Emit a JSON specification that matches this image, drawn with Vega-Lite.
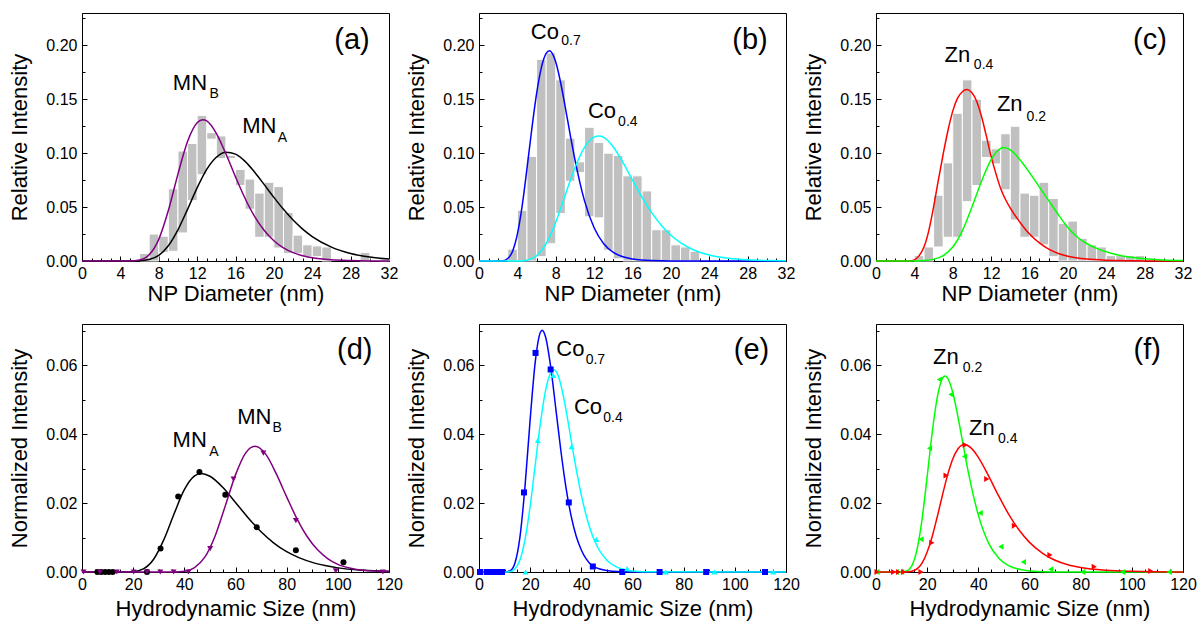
{
"$schema":"https://vega.github.io/schema/vega-lite/v6.json",
"background":"white",
"padding":{"left":8,"top":9,"right":5,"bottom":5},
"datasets":{
"hist":[
{"p":"a","x":6,"x2":7,"y":0,"y2":0.007},{"p":"a","x":7,"x2":8,"y":0,"y2":0.025},{"p":"a","x":8,"x2":9,"y":0.008,"y2":0.023},{"p":"a","x":9,"x2":10,"y":0.009,"y2":0.067},{"p":"a","x":10,"x2":11,"y":0.026,"y2":0.102},{"p":"a","x":11,"x2":12,"y":0.056,"y2":0.109},{"p":"a","x":12,"x2":13,"y":0.08,"y2":0.135},{"p":"a","x":13,"x2":14,"y":0.113,"y2":0.119},{"p":"a","x":14,"x2":15,"y":0.095,"y2":0.116},{"p":"a","x":15,"x2":16,"y":0.095,"y2":0.098},{"p":"a","x":16,"x2":17,"y":0.07,"y2":0.085},{"p":"a","x":17,"x2":18,"y":0.048,"y2":0.076},{"p":"a","x":18,"x2":19,"y":0.022,"y2":0.063},{"p":"a","x":19,"x2":20,"y":0.022,"y2":0.073},{"p":"a","x":20,"x2":21,"y":0.012,"y2":0.069},{"p":"a","x":21,"x2":22,"y":0.007,"y2":0.045},{"p":"a","x":22,"x2":23,"y":0.007,"y2":0.024},{"p":"a","x":23,"x2":24,"y":0.004,"y2":0.015},{"p":"a","x":24,"x2":25,"y":0.004,"y2":0.014},{"p":"a","x":25,"x2":26,"y":0,"y2":0.013},{"p":"a","x":29,"x2":30,"y":0,"y2":0.008},{"p":"a","x":31,"x2":32,"y":0,"y2":0.002},
{"p":"b","x":3,"x2":4,"y":0,"y2":0.011},{"p":"b","x":4,"x2":5,"y":0,"y2":0.047},{"p":"b","x":5,"x2":6,"y":0,"y2":0.097},{"p":"b","x":6,"x2":7,"y":0.004,"y2":0.187},{"p":"b","x":7,"x2":8,"y":0.016,"y2":0.193},{"p":"b","x":8,"x2":9,"y":0.044,"y2":0.168},{"p":"b","x":9,"x2":10,"y":0.074,"y2":0.114},{"p":"b","x":10,"x2":11,"y":0.082,"y2":0.092},{"p":"b","x":11,"x2":12,"y":0.041,"y2":0.124},{"p":"b","x":12,"x2":13,"y":0.04,"y2":0.11},{"p":"b","x":13,"x2":14,"y":0.01,"y2":0.1},{"p":"b","x":14,"x2":15,"y":0.002,"y2":0.098},{"p":"b","x":15,"x2":16,"y":0,"y2":0.079},{"p":"b","x":16,"x2":17,"y":0,"y2":0.079},{"p":"b","x":17,"x2":18,"y":0,"y2":0.065},{"p":"b","x":18,"x2":19,"y":0,"y2":0.029},{"p":"b","x":19,"x2":20,"y":0,"y2":0.029},{"p":"b","x":20,"x2":21,"y":0,"y2":0.015},{"p":"b","x":21,"x2":22,"y":0,"y2":0.013},{"p":"b","x":22,"x2":23,"y":0,"y2":0.009},
{"p":"c","x":4,"x2":5,"y":0,"y2":0.005},{"p":"c","x":5,"x2":6,"y":0,"y2":0.013},{"p":"c","x":6,"x2":7,"y":0.013,"y2":0.061},{"p":"c","x":7,"x2":8,"y":0.022,"y2":0.091},{"p":"c","x":8,"x2":9,"y":0.022,"y2":0.137},{"p":"c","x":9,"x2":10,"y":0.055,"y2":0.168},{"p":"c","x":10,"x2":11,"y":0.07,"y2":0.15},{"p":"c","x":11,"x2":12,"y":0.096,"y2":0.112},{"p":"c","x":12,"x2":13,"y":0.09,"y2":0.104},{"p":"c","x":13,"x2":14,"y":0.066,"y2":0.118},{"p":"c","x":14,"x2":15,"y":0.038,"y2":0.125},{"p":"c","x":15,"x2":16,"y":0.022,"y2":0.063},{"p":"c","x":16,"x2":17,"y":0.022,"y2":0.061},{"p":"c","x":17,"x2":18,"y":0.015,"y2":0.073},{"p":"c","x":18,"x2":19,"y":0.004,"y2":0.058},{"p":"c","x":19,"x2":20,"y":0,"y2":0.035},{"p":"c","x":20,"x2":21,"y":0,"y2":0.037},{"p":"c","x":21,"x2":22,"y":0,"y2":0.021},{"p":"c","x":22,"x2":23,"y":0,"y2":0.015},{"p":"c","x":23,"x2":24,"y":0,"y2":0.013},{"p":"c","x":24,"x2":25,"y":0,"y2":0.005},{"p":"c","x":25,"x2":26,"y":0,"y2":0.005},{"p":"c","x":26,"x2":27,"y":0,"y2":0.005},{"p":"c","x":27,"x2":28,"y":0,"y2":0.005}
],
"curves":[
{"p":"a","s":"MN_A","x":0,"y":0},{"p":"a","s":"MN_A","x":5,"y":0},{"p":"a","s":"MN_A","x":6,"y":0.0002},{"p":"a","s":"MN_A","x":7,"y":0.0014},{"p":"a","s":"MN_A","x":8,"y":0.0053},{"p":"a","s":"MN_A","x":9,"y":0.0142},{"p":"a","s":"MN_A","x":10,"y":0.0289},{"p":"a","s":"MN_A","x":11,"y":0.0479},{"p":"a","s":"MN_A","x":12,"y":0.0678},{"p":"a","s":"MN_A","x":13,"y":0.0849},{"p":"a","s":"MN_A","x":14,"y":0.0962},{"p":"a","s":"MN_A","x":15,"y":0.1009},{"p":"a","s":"MN_A","x":16,"y":0.0991},{"p":"a","s":"MN_A","x":17,"y":0.0924},{"p":"a","s":"MN_A","x":18,"y":0.0823},{"p":"a","s":"MN_A","x":19,"y":0.0708},{"p":"a","s":"MN_A","x":20,"y":0.059},{"p":"a","s":"MN_A","x":21,"y":0.0479},{"p":"a","s":"MN_A","x":22,"y":0.038},{"p":"a","s":"MN_A","x":23,"y":0.0296},{"p":"a","s":"MN_A","x":24,"y":0.0227},{"p":"a","s":"MN_A","x":26,"y":0.0129},{"p":"a","s":"MN_A","x":28,"y":0.007},{"p":"a","s":"MN_A","x":30,"y":0.0037},{"p":"a","s":"MN_A","x":32,"y":0.0019},
{"p":"a","s":"MN_B","x":0,"y":0},{"p":"a","s":"MN_B","x":5,"y":0.0001},{"p":"a","s":"MN_B","x":6,"y":0.0009},{"p":"a","s":"MN_B","x":7,"y":0.0057},{"p":"a","s":"MN_B","x":8,"y":0.0201},{"p":"a","s":"MN_B","x":9,"y":0.0468},{"p":"a","s":"MN_B","x":10,"y":0.0806},{"p":"a","s":"MN_B","x":11,"y":0.1108},{"p":"a","s":"MN_B","x":12,"y":0.1282},{"p":"a","s":"MN_B","x":12.6,"y":0.131},{"p":"a","s":"MN_B","x":13,"y":0.1299},{"p":"a","s":"MN_B","x":14,"y":0.1184},{"p":"a","s":"MN_B","x":15,"y":0.0994},{"p":"a","s":"MN_B","x":16,"y":0.078},{"p":"a","s":"MN_B","x":17,"y":0.058},{"p":"a","s":"MN_B","x":18,"y":0.0412},{"p":"a","s":"MN_B","x":19,"y":0.0283},{"p":"a","s":"MN_B","x":20,"y":0.0188},{"p":"a","s":"MN_B","x":21,"y":0.0122},{"p":"a","s":"MN_B","x":22,"y":0.0078},{"p":"a","s":"MN_B","x":23,"y":0.0049},{"p":"a","s":"MN_B","x":24,"y":0.003},{"p":"a","s":"MN_B","x":26,"y":0.0011},{"p":"a","s":"MN_B","x":28,"y":0.0004},{"p":"a","s":"MN_B","x":30,"y":0.0001},{"p":"a","s":"MN_B","x":32,"y":0},
{"p":"b","s":"Co0.7","x":0,"y":0},{"p":"b","s":"Co0.7","x":2.5,"y":0.0003},{"p":"b","s":"Co0.7","x":3,"y":0.0023},{"p":"b","s":"Co0.7","x":3.5,"y":0.0091},{"p":"b","s":"Co0.7","x":4,"y":0.0249},{"p":"b","s":"Co0.7","x":4.5,"y":0.0512},{"p":"b","s":"Co0.7","x":5,"y":0.0857},{"p":"b","s":"Co0.7","x":5.5,"y":0.1222},{"p":"b","s":"Co0.7","x":6,"y":0.155},{"p":"b","s":"Co0.7","x":6.5,"y":0.1793},{"p":"b","s":"Co0.7","x":7,"y":0.1925},{"p":"b","s":"Co0.7","x":7.35,"y":0.195},{"p":"b","s":"Co0.7","x":8,"y":0.1845},{"p":"b","s":"Co0.7","x":8.5,"y":0.1658},{"p":"b","s":"Co0.7","x":9,"y":0.1423},{"p":"b","s":"Co0.7","x":9.5,"y":0.1175},{"p":"b","s":"Co0.7","x":10,"y":0.094},{"p":"b","s":"Co0.7","x":11,"y":0.0558},{"p":"b","s":"Co0.7","x":12,"y":0.0308},{"p":"b","s":"Co0.7","x":13,"y":0.016},{"p":"b","s":"Co0.7","x":14,"y":0.008},{"p":"b","s":"Co0.7","x":15,"y":0.0039},{"p":"b","s":"Co0.7","x":16,"y":0.0019},{"p":"b","s":"Co0.7","x":18,"y":0.0004},{"p":"b","s":"Co0.7","x":20,"y":0.0001},{"p":"b","s":"Co0.7","x":32,"y":0},
{"p":"b","s":"Co0.4","x":0,"y":0},{"p":"b","s":"Co0.4","x":4,"y":0},{"p":"b","s":"Co0.4","x":5,"y":0.0008},{"p":"b","s":"Co0.4","x":6,"y":0.0049},{"p":"b","s":"Co0.4","x":7,"y":0.0161},{"p":"b","s":"Co0.4","x":8,"y":0.036},{"p":"b","s":"Co0.4","x":9,"y":0.0615},{"p":"b","s":"Co0.4","x":10,"y":0.0865},{"p":"b","s":"Co0.4","x":11,"y":0.1054},{"p":"b","s":"Co0.4","x":12,"y":0.1149},{"p":"b","s":"Co0.4","x":12.5,"y":0.116},{"p":"b","s":"Co0.4","x":13,"y":0.1147},{"p":"b","s":"Co0.4","x":14,"y":0.1058},{"p":"b","s":"Co0.4","x":15,"y":0.0915},{"p":"b","s":"Co0.4","x":16,"y":0.075},{"p":"b","s":"Co0.4","x":17,"y":0.059},{"p":"b","s":"Co0.4","x":18,"y":0.0449},{"p":"b","s":"Co0.4","x":19,"y":0.0332},{"p":"b","s":"Co0.4","x":20,"y":0.0239},{"p":"b","s":"Co0.4","x":21,"y":0.017},{"p":"b","s":"Co0.4","x":22,"y":0.0118},{"p":"b","s":"Co0.4","x":23,"y":0.0081},{"p":"b","s":"Co0.4","x":24,"y":0.0056},{"p":"b","s":"Co0.4","x":25,"y":0.0037},{"p":"b","s":"Co0.4","x":26,"y":0.0025},{"p":"b","s":"Co0.4","x":28,"y":0.0011},{"p":"b","s":"Co0.4","x":30,"y":0.0005},{"p":"b","s":"Co0.4","x":32,"y":0.0002},
{"p":"c","s":"Zn0.4","x":0,"y":0},{"p":"c","s":"Zn0.4","x":3.5,"y":0},{"p":"c","s":"Zn0.4","x":4,"y":0.001},{"p":"c","s":"Zn0.4","x":4.5,"y":0.005},{"p":"c","s":"Zn0.4","x":5,"y":0.013},{"p":"c","s":"Zn0.4","x":5.5,"y":0.028},{"p":"c","s":"Zn0.4","x":6,"y":0.05},{"p":"c","s":"Zn0.4","x":6.5,"y":0.075},{"p":"c","s":"Zn0.4","x":7,"y":0.099},{"p":"c","s":"Zn0.4","x":7.5,"y":0.121},{"p":"c","s":"Zn0.4","x":8,"y":0.139},{"p":"c","s":"Zn0.4","x":8.5,"y":0.151},{"p":"c","s":"Zn0.4","x":9,"y":0.157},{"p":"c","s":"Zn0.4","x":9.5,"y":0.159},{"p":"c","s":"Zn0.4","x":10,"y":0.156},{"p":"c","s":"Zn0.4","x":10.5,"y":0.148},{"p":"c","s":"Zn0.4","x":11,"y":0.134},{"p":"c","s":"Zn0.4","x":11.5,"y":0.116},{"p":"c","s":"Zn0.4","x":12,"y":0.097},{"p":"c","s":"Zn0.4","x":12.5,"y":0.081},{"p":"c","s":"Zn0.4","x":13,"y":0.067},{"p":"c","s":"Zn0.4","x":13.5,"y":0.057},{"p":"c","s":"Zn0.4","x":14,"y":0.049},{"p":"c","s":"Zn0.4","x":15,"y":0.036},{"p":"c","s":"Zn0.4","x":16,"y":0.025},{"p":"c","s":"Zn0.4","x":17,"y":0.017},{"p":"c","s":"Zn0.4","x":18,"y":0.011},{"p":"c","s":"Zn0.4","x":19,"y":0.007},{"p":"c","s":"Zn0.4","x":20,"y":0.0045},{"p":"c","s":"Zn0.4","x":22,"y":0.0018},{"p":"c","s":"Zn0.4","x":24,"y":0.0007},{"p":"c","s":"Zn0.4","x":26,"y":0.0003},{"p":"c","s":"Zn0.4","x":28,"y":0.0001},{"p":"c","s":"Zn0.4","x":32,"y":0},
{"p":"c","s":"Zn0.2","x":0,"y":0},{"p":"c","s":"Zn0.2","x":4,"y":0},{"p":"c","s":"Zn0.2","x":5,"y":0.0005},{"p":"c","s":"Zn0.2","x":6,"y":0.0015},{"p":"c","s":"Zn0.2","x":7,"y":0.005},{"p":"c","s":"Zn0.2","x":8,"y":0.013},{"p":"c","s":"Zn0.2","x":9,"y":0.028},{"p":"c","s":"Zn0.2","x":10,"y":0.05},{"p":"c","s":"Zn0.2","x":11,"y":0.074},{"p":"c","s":"Zn0.2","x":12,"y":0.094},{"p":"c","s":"Zn0.2","x":13,"y":0.1045},{"p":"c","s":"Zn0.2","x":13.3,"y":0.1053},{"p":"c","s":"Zn0.2","x":14,"y":0.103},{"p":"c","s":"Zn0.2","x":15,"y":0.094},{"p":"c","s":"Zn0.2","x":16,"y":0.082},{"p":"c","s":"Zn0.2","x":17,"y":0.069},{"p":"c","s":"Zn0.2","x":18,"y":0.056},{"p":"c","s":"Zn0.2","x":19,"y":0.043},{"p":"c","s":"Zn0.2","x":20,"y":0.031},{"p":"c","s":"Zn0.2","x":21,"y":0.022},{"p":"c","s":"Zn0.2","x":22,"y":0.016},{"p":"c","s":"Zn0.2","x":23,"y":0.0117},{"p":"c","s":"Zn0.2","x":24,"y":0.0085},{"p":"c","s":"Zn0.2","x":25,"y":0.006},{"p":"c","s":"Zn0.2","x":26,"y":0.0042},{"p":"c","s":"Zn0.2","x":27,"y":0.003},{"p":"c","s":"Zn0.2","x":28,"y":0.002},{"p":"c","s":"Zn0.2","x":30,"y":0.0009},{"p":"c","s":"Zn0.2","x":32,"y":0.0004},
{"p":"d","s":"MN_A","x":0,"y":0},{"p":"d","s":"MN_A","x":16,"y":0},{"p":"d","s":"MN_A","x":20,"y":0.0001},{"p":"d","s":"MN_A","x":24,"y":0.0009},{"p":"d","s":"MN_A","x":28,"y":0.0037},{"p":"d","s":"MN_A","x":32,"y":0.0094},{"p":"d","s":"MN_A","x":36,"y":0.0169},{"p":"d","s":"MN_A","x":40,"y":0.0239},{"p":"d","s":"MN_A","x":44,"y":0.0279},{"p":"d","s":"MN_A","x":46.5,"y":0.0286},{"p":"d","s":"MN_A","x":50,"y":0.0278},{"p":"d","s":"MN_A","x":55,"y":0.0246},{"p":"d","s":"MN_A","x":60,"y":0.0202},{"p":"d","s":"MN_A","x":65,"y":0.0157},{"p":"d","s":"MN_A","x":70,"y":0.0117},{"p":"d","s":"MN_A","x":75,"y":0.0084},{"p":"d","s":"MN_A","x":80,"y":0.0059},{"p":"d","s":"MN_A","x":85,"y":0.0041},{"p":"d","s":"MN_A","x":90,"y":0.0028},{"p":"d","s":"MN_A","x":95,"y":0.0019},{"p":"d","s":"MN_A","x":100,"y":0.0012},{"p":"d","s":"MN_A","x":110,"y":0.0005},{"p":"d","s":"MN_A","x":120,"y":0.0002},
{"p":"d","s":"MN_B","x":0,"y":0},{"p":"d","s":"MN_B","x":36,"y":0},{"p":"d","s":"MN_B","x":40,"y":0.0002},{"p":"d","s":"MN_B","x":44,"y":0.0013},{"p":"d","s":"MN_B","x":48,"y":0.0043},{"p":"d","s":"MN_B","x":52,"y":0.0104},{"p":"d","s":"MN_B","x":56,"y":0.0192},{"p":"d","s":"MN_B","x":60,"y":0.0282},{"p":"d","s":"MN_B","x":64,"y":0.0346},{"p":"d","s":"MN_B","x":67.6,"y":0.0365},{"p":"d","s":"MN_B","x":72,"y":0.034},{"p":"d","s":"MN_B","x":76,"y":0.0284},{"p":"d","s":"MN_B","x":80,"y":0.0218},{"p":"d","s":"MN_B","x":84,"y":0.0155},{"p":"d","s":"MN_B","x":88,"y":0.0103},{"p":"d","s":"MN_B","x":92,"y":0.0065},{"p":"d","s":"MN_B","x":96,"y":0.0039},{"p":"d","s":"MN_B","x":100,"y":0.0022},{"p":"d","s":"MN_B","x":105,"y":0.0011},{"p":"d","s":"MN_B","x":110,"y":0.0005},{"p":"d","s":"MN_B","x":120,"y":0.0001},
{"p":"e","s":"Co0.7","x":0,"y":0},{"p":"e","s":"Co0.7","x":10,"y":0},{"p":"e","s":"Co0.7","x":12,"y":0.0003},{"p":"e","s":"Co0.7","x":14,"y":0.0025},{"p":"e","s":"Co0.7","x":16,"y":0.0101},{"p":"e","s":"Co0.7","x":18,"y":0.025},{"p":"e","s":"Co0.7","x":20,"y":0.0443},{"p":"e","s":"Co0.7","x":22,"y":0.0611},{"p":"e","s":"Co0.7","x":24,"y":0.0696},{"p":"e","s":"Co0.7","x":24.7,"y":0.0702},{"p":"e","s":"Co0.7","x":26,"y":0.0683},{"p":"e","s":"Co0.7","x":28,"y":0.0597},{"p":"e","s":"Co0.7","x":30,"y":0.0476},{"p":"e","s":"Co0.7","x":32,"y":0.0352},{"p":"e","s":"Co0.7","x":34,"y":0.0245},{"p":"e","s":"Co0.7","x":36,"y":0.0163},{"p":"e","s":"Co0.7","x":38,"y":0.0104},{"p":"e","s":"Co0.7","x":40,"y":0.0064},{"p":"e","s":"Co0.7","x":44,"y":0.002},{"p":"e","s":"Co0.7","x":48,"y":0.0007},{"p":"e","s":"Co0.7","x":52,"y":0.0002},{"p":"e","s":"Co0.7","x":60,"y":0},{"p":"e","s":"Co0.7","x":120,"y":0},
{"p":"e","s":"Co0.4","x":0,"y":0},{"p":"e","s":"Co0.4","x":10,"y":0},{"p":"e","s":"Co0.4","x":12,"y":0.0001},{"p":"e","s":"Co0.4","x":14,"y":0.0009},{"p":"e","s":"Co0.4","x":16,"y":0.0035},{"p":"e","s":"Co0.4","x":18,"y":0.0095},{"p":"e","s":"Co0.4","x":20,"y":0.0191},{"p":"e","s":"Co0.4","x":22,"y":0.0312},{"p":"e","s":"Co0.4","x":24,"y":0.0432},{"p":"e","s":"Co0.4","x":26,"y":0.0526},{"p":"e","s":"Co0.4","x":28,"y":0.0578},{"p":"e","s":"Co0.4","x":29.3,"y":0.0587},{"p":"e","s":"Co0.4","x":31,"y":0.0569},{"p":"e","s":"Co0.4","x":33,"y":0.051},{"p":"e","s":"Co0.4","x":35,"y":0.0428},{"p":"e","s":"Co0.4","x":37,"y":0.034},{"p":"e","s":"Co0.4","x":40,"y":0.0223},{"p":"e","s":"Co0.4","x":43,"y":0.0135},{"p":"e","s":"Co0.4","x":46,"y":0.0077},{"p":"e","s":"Co0.4","x":50,"y":0.0034},{"p":"e","s":"Co0.4","x":55,"y":0.0011},{"p":"e","s":"Co0.4","x":60,"y":0.0003},{"p":"e","s":"Co0.4","x":65,"y":0.0001},{"p":"e","s":"Co0.4","x":120,"y":0},
{"p":"f","s":"Zn0.2","x":0,"y":0},{"p":"f","s":"Zn0.2","x":10,"y":0},{"p":"f","s":"Zn0.2","x":12,"y":0.0003},{"p":"f","s":"Zn0.2","x":14,"y":0.0018},{"p":"f","s":"Zn0.2","x":16,"y":0.0064},{"p":"f","s":"Zn0.2","x":18,"y":0.0153},{"p":"f","s":"Zn0.2","x":20,"y":0.0277},{"p":"f","s":"Zn0.2","x":22,"y":0.0407},{"p":"f","s":"Zn0.2","x":24,"y":0.0509},{"p":"f","s":"Zn0.2","x":26,"y":0.0563},{"p":"f","s":"Zn0.2","x":27,"y":0.0569},{"p":"f","s":"Zn0.2","x":28,"y":0.0563},{"p":"f","s":"Zn0.2","x":30,"y":0.0521},{"p":"f","s":"Zn0.2","x":32,"y":0.0452},{"p":"f","s":"Zn0.2","x":34,"y":0.0372},{"p":"f","s":"Zn0.2","x":36,"y":0.0293},{"p":"f","s":"Zn0.2","x":38,"y":0.0224},{"p":"f","s":"Zn0.2","x":40,"y":0.0165},{"p":"f","s":"Zn0.2","x":44,"y":0.0084},{"p":"f","s":"Zn0.2","x":48,"y":0.004},{"p":"f","s":"Zn0.2","x":52,"y":0.0018},{"p":"f","s":"Zn0.2","x":56,"y":0.0008},{"p":"f","s":"Zn0.2","x":60,"y":0.0003},{"p":"f","s":"Zn0.2","x":70,"y":0},{"p":"f","s":"Zn0.2","x":120,"y":0},
{"p":"f","s":"Zn0.4","x":0,"y":0},{"p":"f","s":"Zn0.4","x":12,"y":0},{"p":"f","s":"Zn0.4","x":14,"y":0.0002},{"p":"f","s":"Zn0.4","x":16,"y":0.0009},{"p":"f","s":"Zn0.4","x":18,"y":0.0026},{"p":"f","s":"Zn0.4","x":20,"y":0.0058},{"p":"f","s":"Zn0.4","x":22,"y":0.0104},{"p":"f","s":"Zn0.4","x":24,"y":0.0162},{"p":"f","s":"Zn0.4","x":26,"y":0.0224},{"p":"f","s":"Zn0.4","x":28,"y":0.0282},{"p":"f","s":"Zn0.4","x":30,"y":0.0328},{"p":"f","s":"Zn0.4","x":32,"y":0.0357},{"p":"f","s":"Zn0.4","x":34.5,"y":0.037},{"p":"f","s":"Zn0.4","x":37,"y":0.0361},{"p":"f","s":"Zn0.4","x":40,"y":0.0333},{"p":"f","s":"Zn0.4","x":44,"y":0.0279},{"p":"f","s":"Zn0.4","x":48,"y":0.022},{"p":"f","s":"Zn0.4","x":52,"y":0.0166},{"p":"f","s":"Zn0.4","x":56,"y":0.0121},{"p":"f","s":"Zn0.4","x":60,"y":0.0086},{"p":"f","s":"Zn0.4","x":65,"y":0.0055},{"p":"f","s":"Zn0.4","x":70,"y":0.0034},{"p":"f","s":"Zn0.4","x":75,"y":0.0021},{"p":"f","s":"Zn0.4","x":80,"y":0.0013},{"p":"f","s":"Zn0.4","x":90,"y":0.0005},{"p":"f","s":"Zn0.4","x":100,"y":0.0002},{"p":"f","s":"Zn0.4","x":120,"y":0}
],
"points":[
{"p":"d","s":"MN_A","x":6,"y":0},{"p":"d","s":"MN_A","x":7.5,"y":0},{"p":"d","s":"MN_A","x":9,"y":0},{"p":"d","s":"MN_A","x":10.5,"y":0},{"p":"d","s":"MN_A","x":12,"y":0},{"p":"d","s":"MN_A","x":25.4,"y":0},{"p":"d","s":"MN_A","x":30.7,"y":0.0068},{"p":"d","s":"MN_A","x":37.6,"y":0.0219},{"p":"d","s":"MN_A","x":45.9,"y":0.029},{"p":"d","s":"MN_A","x":56,"y":0.0224},{"p":"d","s":"MN_A","x":68.3,"y":0.013},{"p":"d","s":"MN_A","x":83.6,"y":0.0063},{"p":"d","s":"MN_A","x":102.2,"y":0.0028},
{"p":"d","s":"MN_B","x":0.6,"y":0},{"p":"d","s":"MN_B","x":7,"y":0},{"p":"d","s":"MN_B","x":13.6,"y":0},{"p":"d","s":"MN_B","x":20.2,"y":0},{"p":"d","s":"MN_B","x":25.4,"y":0},{"p":"d","s":"MN_B","x":30.6,"y":0},{"p":"d","s":"MN_B","x":35.8,"y":0},{"p":"d","s":"MN_B","x":41.6,"y":0},{"p":"d","s":"MN_B","x":50.1,"y":0.0068},{"p":"d","s":"MN_B","x":59.2,"y":0.027},{"p":"d","s":"MN_B","x":70.9,"y":0.0345},{"p":"d","s":"MN_B","x":83.6,"y":0.0149},{"p":"d","s":"MN_B","x":99.2,"y":0.0003},{"p":"d","s":"MN_B","x":117.6,"y":0},
{"p":"e","s":"Co0.7","x":0.4,"y":0},{"p":"e","s":"Co0.7","x":3,"y":0},{"p":"e","s":"Co0.7","x":4.5,"y":0},{"p":"e","s":"Co0.7","x":6,"y":0},{"p":"e","s":"Co0.7","x":7.5,"y":0},{"p":"e","s":"Co0.7","x":9,"y":0},{"p":"e","s":"Co0.7","x":17.6,"y":0.0231},{"p":"e","s":"Co0.7","x":22.1,"y":0.0636},{"p":"e","s":"Co0.7","x":28,"y":0.0588},{"p":"e","s":"Co0.7","x":35.1,"y":0.0202},{"p":"e","s":"Co0.7","x":44.5,"y":0.0016},{"p":"e","s":"Co0.7","x":56,"y":0},{"p":"e","s":"Co0.7","x":70.6,"y":0},{"p":"e","s":"Co0.7","x":88.8,"y":0},{"p":"e","s":"Co0.7","x":111.8,"y":0},
{"p":"e","s":"Co0.4","x":18.2,"y":0},{"p":"e","s":"Co0.4","x":23,"y":0.0382},{"p":"e","s":"Co0.4","x":29,"y":0.0571},{"p":"e","s":"Co0.4","x":36.2,"y":0.0364},{"p":"e","s":"Co0.4","x":45.9,"y":0.0095},{"p":"e","s":"Co0.4","x":57.9,"y":0.001},{"p":"e","s":"Co0.4","x":73,"y":0},{"p":"e","s":"Co0.4","x":92,"y":0},{"p":"e","s":"Co0.4","x":115,"y":0},
{"p":"f","s":"Zn0.2","x":0.4,"y":0},{"p":"f","s":"Zn0.2","x":8,"y":0},{"p":"f","s":"Zn0.2","x":10,"y":0},{"p":"f","s":"Zn0.2","x":17.6,"y":0.0095},{"p":"f","s":"Zn0.2","x":20.9,"y":0.0359},{"p":"f","s":"Zn0.2","x":24.8,"y":0.0559},{"p":"f","s":"Zn0.2","x":29.3,"y":0.0515},{"p":"f","s":"Zn0.2","x":34.6,"y":0.0335},{"p":"f","s":"Zn0.2","x":40.7,"y":0.0171},{"p":"f","s":"Zn0.2","x":48.8,"y":0.0073},{"p":"f","s":"Zn0.2","x":57.6,"y":0.0029},{"p":"f","s":"Zn0.2","x":68.3,"y":0.0008},{"p":"f","s":"Zn0.2","x":80.8,"y":0},{"p":"f","s":"Zn0.2","x":96.4,"y":0},{"p":"f","s":"Zn0.2","x":114.6,"y":0},
{"p":"f","s":"Zn0.4","x":0.4,"y":0},{"p":"f","s":"Zn0.4","x":6.9,"y":0},{"p":"f","s":"Zn0.4","x":8.8,"y":0},{"p":"f","s":"Zn0.4","x":10.8,"y":0},{"p":"f","s":"Zn0.4","x":17.6,"y":0},{"p":"f","s":"Zn0.4","x":21.8,"y":0.0085},{"p":"f","s":"Zn0.4","x":27.4,"y":0.028},{"p":"f","s":"Zn0.4","x":34.9,"y":0.0369},{"p":"f","s":"Zn0.4","x":43.3,"y":0.027},{"p":"f","s":"Zn0.4","x":54.1,"y":0.0134},{"p":"f","s":"Zn0.4","x":68,"y":0.0049},{"p":"f","s":"Zn0.4","x":85.3,"y":0.0015},{"p":"f","s":"Zn0.4","x":107.4,"y":0.0003}
],
"labels":[
{"p":"a","k":"main","t":"MN","x":9.47,"y":0.1588},{"p":"a","k":"sub","t":"B","x":13.3,"y":0.1514},{"p":"a","k":"main","t":"MN","x":16.7,"y":0.119},{"p":"a","k":"sub","t":"A","x":20.4,"y":0.1108},{"p":"a","k":"panel","t":"(a)","x":26.3,"y":0.197},
{"p":"b","k":"main","t":"Co","x":5.4,"y":0.206},{"p":"b","k":"sub","t":"0.7","x":8.57,"y":0.2006},{"p":"b","k":"main","t":"Co","x":11.35,"y":0.1325},{"p":"b","k":"sub","t":"0.4","x":14.5,"y":0.1254},{"p":"b","k":"panel","t":"(b)","x":26.4,"y":0.197},
{"p":"c","k":"main","t":"Zn","x":7.15,"y":0.185},{"p":"c","k":"sub","t":"0.4","x":10.2,"y":0.178},{"p":"c","k":"main","t":"Zn","x":12.6,"y":0.1387},{"p":"c","k":"sub","t":"0.2","x":15.7,"y":0.1303},{"p":"c","k":"panel","t":"(c)","x":26.8,"y":0.197},
{"p":"d","k":"main","t":"MN","x":35.4,"y":0.0362},{"p":"d","k":"sub","t":"A","x":49.7,"y":0.0336},{"p":"d","k":"main","t":"MN","x":60.7,"y":0.043},{"p":"d","k":"sub","t":"B","x":74.5,"y":0.0406},{"p":"d","k":"panel","t":"(d)","x":99.7,"y":0.0617},
{"p":"e","k":"main","t":"Co","x":30.2,"y":0.0627},{"p":"e","k":"sub","t":"0.7","x":41.7,"y":0.0605},{"p":"e","k":"main","t":"Co","x":37.1,"y":0.0459},{"p":"e","k":"sub","t":"0.4","x":48.6,"y":0.0435},{"p":"e","k":"panel","t":"(e)","x":99.6,"y":0.0617},
{"p":"f","k":"main","t":"Zn","x":22.3,"y":0.0605},{"p":"f","k":"sub","t":"0.2","x":33.9,"y":0.0582},{"p":"f","k":"main","t":"Zn","x":36.4,"y":0.0399},{"p":"f","k":"sub","t":"0.4","x":47.7,"y":0.0374},{"p":"f","k":"panel","t":"(f)","x":100.7,"y":0.0617}
]
},
"columns":3,
"spacing":{"row":63,"column":90},
"bounds":"flush",
"concat":[
{"width":307,"height":248,
"encoding":{"x":{"field":"x","type":"quantitative","scale":{"domain":[0,32],"nice":false,"zero":false},"axis":{"title":"NP Diameter (nm)","values":[0,1,2,3,4,5,6,7,8,9,10,11,12,13,14,15,16,17,18,19,20,21,22,23,24,25,26,27,28,29,30,31,32],"labelExpr":"datum.value % 4 == 0 ? datum.label : ''","tickSize":{"expr":"datum.value % 4 == 0 ? -5 : -3"},"labelPadding":9,"titlePadding":0,"format":"d","labelOverlap":false,"labelFlush":false}},
"y":{"field":"y","type":"quantitative","scale":{"domain":[0,0.23],"nice":false},"axis":{"title":"Relative Intensity","values":[0,0.025,0.05,0.075,0.1,0.125,0.15,0.175,0.2,0.225],"labelExpr":"round(datum.value*1000) % 50 == 0 ? format(datum.value, '.2f') : ''","tickSize":{"expr":"round(datum.value*1000) % 50 == 0 ? -5 : -3"},"labelPadding":10,"titlePadding":14,"labelOverlap":false,"labelFlush":false}}},
"layer":[
{"data":{"name":"hist"},"transform":[{"filter":"datum.p=='a'"}],"mark":{"type":"rect","fill":"#c0c0c0","stroke":"#ffffff","strokeWidth":1},"encoding":{"x2":{"field":"x2"},"y2":{"field":"y2"}}},
{"data":{"name":"curves"},"transform":[{"filter":"datum.p=='a'"}],"mark":{"type":"line","strokeWidth":1.5,"interpolate":"monotone"},"encoding":{"color":{"field":"s","type":"nominal","scale":{"domain":["MN_A","MN_B","Co0.7","Co0.4","Zn0.4","Zn0.2"],"range":["#000000","#800080","#0000ff","#00ffff","#ff0000","#00ff00"]},"legend":null}}},
{"data":{"name":"labels"},"transform":[{"filter":"datum.p=='a' && datum.k=='main'"}],"mark":{"type":"text","fontSize":22,"align":"left","baseline":"alphabetic","color":"#000000"},"encoding":{"text":{"field":"t"}}},
{"data":{"name":"labels"},"transform":[{"filter":"datum.p=='a' && datum.k=='sub'"}],"mark":{"type":"text","fontSize":14,"align":"left","baseline":"alphabetic","color":"#000000"},"encoding":{"text":{"field":"t"}}},
{"data":{"name":"labels"},"transform":[{"filter":"datum.p=='a' && datum.k=='panel'"}],"mark":{"type":"text","fontSize":29,"align":"left","baseline":"alphabetic","color":"#000000"},"encoding":{"text":{"field":"t"}}}
]},
{"width":307,"height":248,
"encoding":{"x":{"field":"x","type":"quantitative","scale":{"domain":[0,32],"nice":false,"zero":false},"axis":{"title":"NP Diameter (nm)","values":[0,1,2,3,4,5,6,7,8,9,10,11,12,13,14,15,16,17,18,19,20,21,22,23,24,25,26,27,28,29,30,31,32],"labelExpr":"datum.value % 4 == 0 ? datum.label : ''","tickSize":{"expr":"datum.value % 4 == 0 ? -5 : -3"},"labelPadding":9,"titlePadding":0,"format":"d","labelOverlap":false,"labelFlush":false}},
"y":{"field":"y","type":"quantitative","scale":{"domain":[0,0.23],"nice":false},"axis":{"title":"Relative Intensity","values":[0,0.025,0.05,0.075,0.1,0.125,0.15,0.175,0.2,0.225],"labelExpr":"round(datum.value*1000) % 50 == 0 ? format(datum.value, '.2f') : ''","tickSize":{"expr":"round(datum.value*1000) % 50 == 0 ? -5 : -3"},"labelPadding":10,"titlePadding":14,"labelOverlap":false,"labelFlush":false}}},
"layer":[
{"data":{"name":"hist"},"transform":[{"filter":"datum.p=='b'"}],"mark":{"type":"rect","fill":"#c0c0c0","stroke":"#ffffff","strokeWidth":1},"encoding":{"x2":{"field":"x2"},"y2":{"field":"y2"}}},
{"data":{"name":"curves"},"transform":[{"filter":"datum.p=='b'"}],"mark":{"type":"line","strokeWidth":1.5,"interpolate":"monotone"},"encoding":{"color":{"field":"s","type":"nominal","scale":{"domain":["MN_A","MN_B","Co0.7","Co0.4","Zn0.4","Zn0.2"],"range":["#000000","#800080","#0000ff","#00ffff","#ff0000","#00ff00"]},"legend":null}}},
{"data":{"name":"labels"},"transform":[{"filter":"datum.p=='b' && datum.k=='main'"}],"mark":{"type":"text","fontSize":22,"align":"left","baseline":"alphabetic","color":"#000000"},"encoding":{"text":{"field":"t"}}},
{"data":{"name":"labels"},"transform":[{"filter":"datum.p=='b' && datum.k=='sub'"}],"mark":{"type":"text","fontSize":14,"align":"left","baseline":"alphabetic","color":"#000000"},"encoding":{"text":{"field":"t"}}},
{"data":{"name":"labels"},"transform":[{"filter":"datum.p=='b' && datum.k=='panel'"}],"mark":{"type":"text","fontSize":29,"align":"left","baseline":"alphabetic","color":"#000000"},"encoding":{"text":{"field":"t"}}}
]},
{"width":307,"height":248,
"encoding":{"x":{"field":"x","type":"quantitative","scale":{"domain":[0,32],"nice":false,"zero":false},"axis":{"title":"NP Diameter (nm)","values":[0,1,2,3,4,5,6,7,8,9,10,11,12,13,14,15,16,17,18,19,20,21,22,23,24,25,26,27,28,29,30,31,32],"labelExpr":"datum.value % 4 == 0 ? datum.label : ''","tickSize":{"expr":"datum.value % 4 == 0 ? -5 : -3"},"labelPadding":9,"titlePadding":0,"format":"d","labelOverlap":false,"labelFlush":false}},
"y":{"field":"y","type":"quantitative","scale":{"domain":[0,0.23],"nice":false},"axis":{"title":"Relative Intensity","values":[0,0.025,0.05,0.075,0.1,0.125,0.15,0.175,0.2,0.225],"labelExpr":"round(datum.value*1000) % 50 == 0 ? format(datum.value, '.2f') : ''","tickSize":{"expr":"round(datum.value*1000) % 50 == 0 ? -5 : -3"},"labelPadding":10,"titlePadding":14,"labelOverlap":false,"labelFlush":false}}},
"layer":[
{"data":{"name":"hist"},"transform":[{"filter":"datum.p=='c'"}],"mark":{"type":"rect","fill":"#c0c0c0","stroke":"#ffffff","strokeWidth":1},"encoding":{"x2":{"field":"x2"},"y2":{"field":"y2"}}},
{"data":{"name":"curves"},"transform":[{"filter":"datum.p=='c'"}],"mark":{"type":"line","strokeWidth":1.5,"interpolate":"monotone"},"encoding":{"color":{"field":"s","type":"nominal","scale":{"domain":["MN_A","MN_B","Co0.7","Co0.4","Zn0.4","Zn0.2"],"range":["#000000","#800080","#0000ff","#00ffff","#ff0000","#00ff00"]},"legend":null}}},
{"data":{"name":"labels"},"transform":[{"filter":"datum.p=='c' && datum.k=='main'"}],"mark":{"type":"text","fontSize":22,"align":"left","baseline":"alphabetic","color":"#000000"},"encoding":{"text":{"field":"t"}}},
{"data":{"name":"labels"},"transform":[{"filter":"datum.p=='c' && datum.k=='sub'"}],"mark":{"type":"text","fontSize":14,"align":"left","baseline":"alphabetic","color":"#000000"},"encoding":{"text":{"field":"t"}}},
{"data":{"name":"labels"},"transform":[{"filter":"datum.p=='c' && datum.k=='panel'"}],"mark":{"type":"text","fontSize":29,"align":"left","baseline":"alphabetic","color":"#000000"},"encoding":{"text":{"field":"t"}}}
]},
{"width":307,"height":248,
"encoding":{"x":{"field":"x","type":"quantitative","scale":{"domain":[0,120],"nice":false,"zero":false},"axis":{"title":"Hydrodynamic Size (nm)","values":[0,5,10,15,20,25,30,35,40,45,50,55,60,65,70,75,80,85,90,95,100,105,110,115,120],"labelExpr":"datum.value % 20 == 0 ? datum.label : ''","tickSize":{"expr":"datum.value % 20 == 0 ? -5 : -3"},"labelPadding":9,"titlePadding":4,"format":"d","labelOverlap":false,"labelFlush":false}},
"y":{"field":"y","type":"quantitative","scale":{"domain":[0,0.072],"nice":false},"axis":{"title":"Normalized Intensity","values":[0,0.01,0.02,0.03,0.04,0.05,0.06,0.07],"labelExpr":"round(datum.value*100) % 2 == 0 ? format(datum.value, '.2f') : ''","tickSize":{"expr":"round(datum.value*100) % 2 == 0 ? -5 : -3"},"labelPadding":10,"titlePadding":14,"labelOverlap":false,"labelFlush":false}}},
"layer":[
{"data":{"name":"curves"},"transform":[{"filter":"datum.p=='d'"}],"mark":{"type":"line","strokeWidth":1.5,"interpolate":"monotone"},"encoding":{"color":{"field":"s","type":"nominal","scale":{"domain":["MN_A","MN_B","Co0.7","Co0.4","Zn0.4","Zn0.2"],"range":["#000000","#800080","#0000ff","#00ffff","#ff0000","#00ff00"]},"legend":null}}},
{"data":{"name":"points"},"transform":[{"filter":"datum.p=='d'"}],"mark":{"type":"point","filled":true,"size":36,"opacity":1},"encoding":{"color":{"field":"s","type":"nominal","scale":{"domain":["MN_A","MN_B","Co0.7","Co0.4","Zn0.4","Zn0.2"],"range":["#000000","#800080","#0000ff","#00ffff","#ff0000","#00ff00"]},"legend":null},"shape":{"field":"s","type":"nominal","scale":{"domain":["MN_A","MN_B","Co0.7","Co0.4","Zn0.4","Zn0.2"],"range":["circle","triangle-down","square","triangle-up","triangle-right","triangle-left"]},"legend":null}}},
{"data":{"name":"labels"},"transform":[{"filter":"datum.p=='d' && datum.k=='main'"}],"mark":{"type":"text","fontSize":22,"align":"left","baseline":"alphabetic","color":"#000000"},"encoding":{"text":{"field":"t"}}},
{"data":{"name":"labels"},"transform":[{"filter":"datum.p=='d' && datum.k=='sub'"}],"mark":{"type":"text","fontSize":14,"align":"left","baseline":"alphabetic","color":"#000000"},"encoding":{"text":{"field":"t"}}},
{"data":{"name":"labels"},"transform":[{"filter":"datum.p=='d' && datum.k=='panel'"}],"mark":{"type":"text","fontSize":29,"align":"left","baseline":"alphabetic","color":"#000000"},"encoding":{"text":{"field":"t"}}}
]},
{"width":307,"height":248,
"encoding":{"x":{"field":"x","type":"quantitative","scale":{"domain":[0,120],"nice":false,"zero":false},"axis":{"title":"Hydrodynamic Size (nm)","values":[0,5,10,15,20,25,30,35,40,45,50,55,60,65,70,75,80,85,90,95,100,105,110,115,120],"labelExpr":"datum.value % 20 == 0 ? datum.label : ''","tickSize":{"expr":"datum.value % 20 == 0 ? -5 : -3"},"labelPadding":9,"titlePadding":4,"format":"d","labelOverlap":false,"labelFlush":false}},
"y":{"field":"y","type":"quantitative","scale":{"domain":[0,0.072],"nice":false},"axis":{"title":"Normalized Intensity","values":[0,0.01,0.02,0.03,0.04,0.05,0.06,0.07],"labelExpr":"round(datum.value*100) % 2 == 0 ? format(datum.value, '.2f') : ''","tickSize":{"expr":"round(datum.value*100) % 2 == 0 ? -5 : -3"},"labelPadding":10,"titlePadding":14,"labelOverlap":false,"labelFlush":false}}},
"layer":[
{"data":{"name":"curves"},"transform":[{"filter":"datum.p=='e'"}],"mark":{"type":"line","strokeWidth":1.5,"interpolate":"monotone"},"encoding":{"color":{"field":"s","type":"nominal","scale":{"domain":["MN_A","MN_B","Co0.7","Co0.4","Zn0.4","Zn0.2"],"range":["#000000","#800080","#0000ff","#00ffff","#ff0000","#00ff00"]},"legend":null}}},
{"data":{"name":"points"},"transform":[{"filter":"datum.p=='e'"}],"mark":{"type":"point","filled":true,"size":36,"opacity":1},"encoding":{"color":{"field":"s","type":"nominal","scale":{"domain":["MN_A","MN_B","Co0.7","Co0.4","Zn0.4","Zn0.2"],"range":["#000000","#800080","#0000ff","#00ffff","#ff0000","#00ff00"]},"legend":null},"shape":{"field":"s","type":"nominal","scale":{"domain":["MN_A","MN_B","Co0.7","Co0.4","Zn0.4","Zn0.2"],"range":["circle","triangle-down","square","triangle-up","triangle-right","triangle-left"]},"legend":null}}},
{"data":{"name":"labels"},"transform":[{"filter":"datum.p=='e' && datum.k=='main'"}],"mark":{"type":"text","fontSize":22,"align":"left","baseline":"alphabetic","color":"#000000"},"encoding":{"text":{"field":"t"}}},
{"data":{"name":"labels"},"transform":[{"filter":"datum.p=='e' && datum.k=='sub'"}],"mark":{"type":"text","fontSize":14,"align":"left","baseline":"alphabetic","color":"#000000"},"encoding":{"text":{"field":"t"}}},
{"data":{"name":"labels"},"transform":[{"filter":"datum.p=='e' && datum.k=='panel'"}],"mark":{"type":"text","fontSize":29,"align":"left","baseline":"alphabetic","color":"#000000"},"encoding":{"text":{"field":"t"}}}
]},
{"width":307,"height":248,
"encoding":{"x":{"field":"x","type":"quantitative","scale":{"domain":[0,120],"nice":false,"zero":false},"axis":{"title":"Hydrodynamic Size (nm)","values":[0,5,10,15,20,25,30,35,40,45,50,55,60,65,70,75,80,85,90,95,100,105,110,115,120],"labelExpr":"datum.value % 20 == 0 ? datum.label : ''","tickSize":{"expr":"datum.value % 20 == 0 ? -5 : -3"},"labelPadding":9,"titlePadding":4,"format":"d","labelOverlap":false,"labelFlush":false}},
"y":{"field":"y","type":"quantitative","scale":{"domain":[0,0.072],"nice":false},"axis":{"title":"Normalized Intensity","values":[0,0.01,0.02,0.03,0.04,0.05,0.06,0.07],"labelExpr":"round(datum.value*100) % 2 == 0 ? format(datum.value, '.2f') : ''","tickSize":{"expr":"round(datum.value*100) % 2 == 0 ? -5 : -3"},"labelPadding":10,"titlePadding":14,"labelOverlap":false,"labelFlush":false}}},
"layer":[
{"data":{"name":"curves"},"transform":[{"filter":"datum.p=='f'"}],"mark":{"type":"line","strokeWidth":1.5,"interpolate":"monotone"},"encoding":{"color":{"field":"s","type":"nominal","scale":{"domain":["MN_A","MN_B","Co0.7","Co0.4","Zn0.4","Zn0.2"],"range":["#000000","#800080","#0000ff","#00ffff","#ff0000","#00ff00"]},"legend":null}}},
{"data":{"name":"points"},"transform":[{"filter":"datum.p=='f'"}],"mark":{"type":"point","filled":true,"size":36,"opacity":1},"encoding":{"color":{"field":"s","type":"nominal","scale":{"domain":["MN_A","MN_B","Co0.7","Co0.4","Zn0.4","Zn0.2"],"range":["#000000","#800080","#0000ff","#00ffff","#ff0000","#00ff00"]},"legend":null},"shape":{"field":"s","type":"nominal","scale":{"domain":["MN_A","MN_B","Co0.7","Co0.4","Zn0.4","Zn0.2"],"range":["circle","triangle-down","square","triangle-up","triangle-right","triangle-left"]},"legend":null}}},
{"data":{"name":"labels"},"transform":[{"filter":"datum.p=='f' && datum.k=='main'"}],"mark":{"type":"text","fontSize":22,"align":"left","baseline":"alphabetic","color":"#000000"},"encoding":{"text":{"field":"t"}}},
{"data":{"name":"labels"},"transform":[{"filter":"datum.p=='f' && datum.k=='sub'"}],"mark":{"type":"text","fontSize":14,"align":"left","baseline":"alphabetic","color":"#000000"},"encoding":{"text":{"field":"t"}}},
{"data":{"name":"labels"},"transform":[{"filter":"datum.p=='f' && datum.k=='panel'"}],"mark":{"type":"text","fontSize":29,"align":"left","baseline":"alphabetic","color":"#000000"},"encoding":{"text":{"field":"t"}}}
]}
],
"config":{"font":"Liberation Sans","view":{"stroke":"#000000","strokeWidth":1},"axis":{"domainColor":"#000000","tickColor":"#000000","labelColor":"#000000","titleColor":"#000000","labelFont":"Liberation Sans","titleFont":"Liberation Sans","labelFontSize":16,"titleFontSize":22,"titleFontWeight":"normal","grid":false,"domainWidth":1,"tickWidth":1},"text":{"font":"Liberation Sans"}}
}
